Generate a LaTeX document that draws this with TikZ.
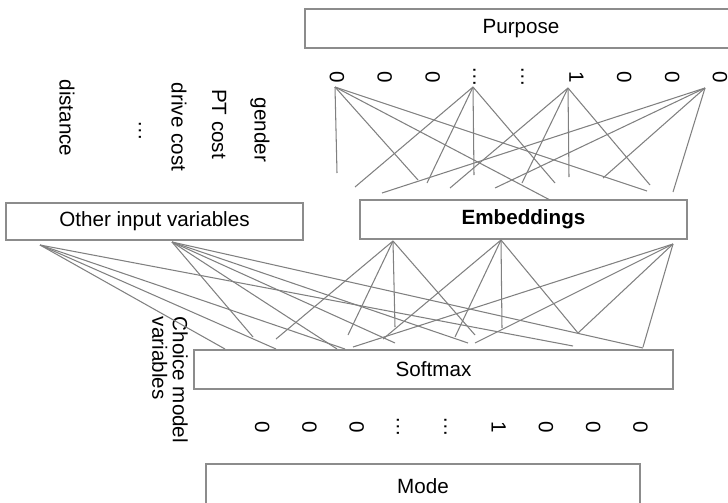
\documentclass[tikz,border=0pt]{standalone}
\usepackage{fontspec}
\setmainfont{Liberation Sans}
\usetikzlibrary{positioning}
\definecolor{boxgray}{gray}{0.55}
\definecolor{linkgray}{gray}{0.5}
\tikzset{
  txt/.style={font=\fontsize{17.6}{17.6}\selectfont},
  box/.style={txt, draw=boxgray, line width=1pt, inner sep=0pt},
  dig/.style={txt, rotate=-90, inner sep=0pt, text height=0.75em, text depth=0.25em},
  lbl/.style={txt, rotate=-90, inner sep=0pt},
  link/.style={draw=linkgray, line width=0.9pt},
}
\begin{document}
\begin{tikzpicture}[x=0.03cm,y=-0.03cm]
\useasboundingbox (0,0) rectangle (728,502);

%%Boxes
\node[box, minimum width=432*0.03cm, minimum height=39*0.03cm] (purpose) at (521,28.5) {Purpose};
\node[box, minimum width=297*0.03cm, minimum height=37*0.03cm] (other) at (154.5,221.5) {Other input variables};
\node[box, minimum width=327*0.03cm, minimum height=39*0.03cm] (embed) at (523.5,219.5) {\bfseries Embeddings};
\node[box, minimum width=479*0.03cm, minimum height=39*0.03cm] (softmax) at (433.5,369.5) {Softmax};
\node[box, minimum width=434*0.03cm, minimum height=44*0.03cm] (mode) at (423,486) {Mode};

%%One-hot vectors
\foreach \v [count=\i from 0] in {0,0,0,\ldots,\ldots,1,0,0,0}
  \node[dig] (p\i) at (332.7+47.9*\i,77) {\v};
\foreach \v [count=\i from 0] in {0,0,0,\ldots,\ldots,1,0,0,0}
  \node[dig] (m\i) at (258+47.3*\i,427) {\v};

%%Input variables
\node[lbl] (gender) at (260,130) {gender};
\node[lbl] (ptcost) at (219,124) {PT cost};
\node[lbl] (drive) at (179,127) {drive cost};
\node[lbl] (more) at (140,131) {\ldots};
\node[lbl] (dist) at (67,118) {distance};
\node[lbl, align=left] (choice) at (170,380) {Choice model\\variables};

%%Purpose to embeddings
\coordinate (pa) at (335,87);
\coordinate (pb) at (473,87);
\coordinate (pc) at (568,88);
\coordinate (pd) at (705,88);
\foreach \s/\x/\y [count=\i] in {pa/337/173, pa/418/180, pa/550/200, pa/647/191,
    pb/355/187, pb/427/183, pb/474/175, pb/555/183,
    pc/450/188, pc/522/183, pc/569/177, pc/650/185,
    pd/382/193, pd/495/188, pd/603/178, pd/673/192}
  {\coordinate (e\i) at (\x,\y);
   \draw[link] (\s) -- (e\i);}

%%Inputs and embeddings to softmax
\coordinate (oa) at (40,245);
\coordinate (ob) at (172,242);
\coordinate (ea) at (393,241);
\coordinate (eb) at (501,240);
\coordinate (ec) at (673,244);
\foreach \s/\x/\y [count=\i] in {oa/225/349, oa/276/349, oa/345/349, oa/573/346,
    ob/253/337, ob/337/349, ob/395/343, ob/468/343, ob/643/348,
    ea/276/339, ea/348/335, ea/395/327, ea/475/335,
    eb/383/339, eb/455/337, eb/502/328, eb/578/333,
    ec/353/347, ec/475/343, ec/578/333, ec/643/347}
  {\coordinate (s\i) at (\x,\y);
   \draw[link] (\s) -- (s\i);}

\end{tikzpicture}
\end{document}
